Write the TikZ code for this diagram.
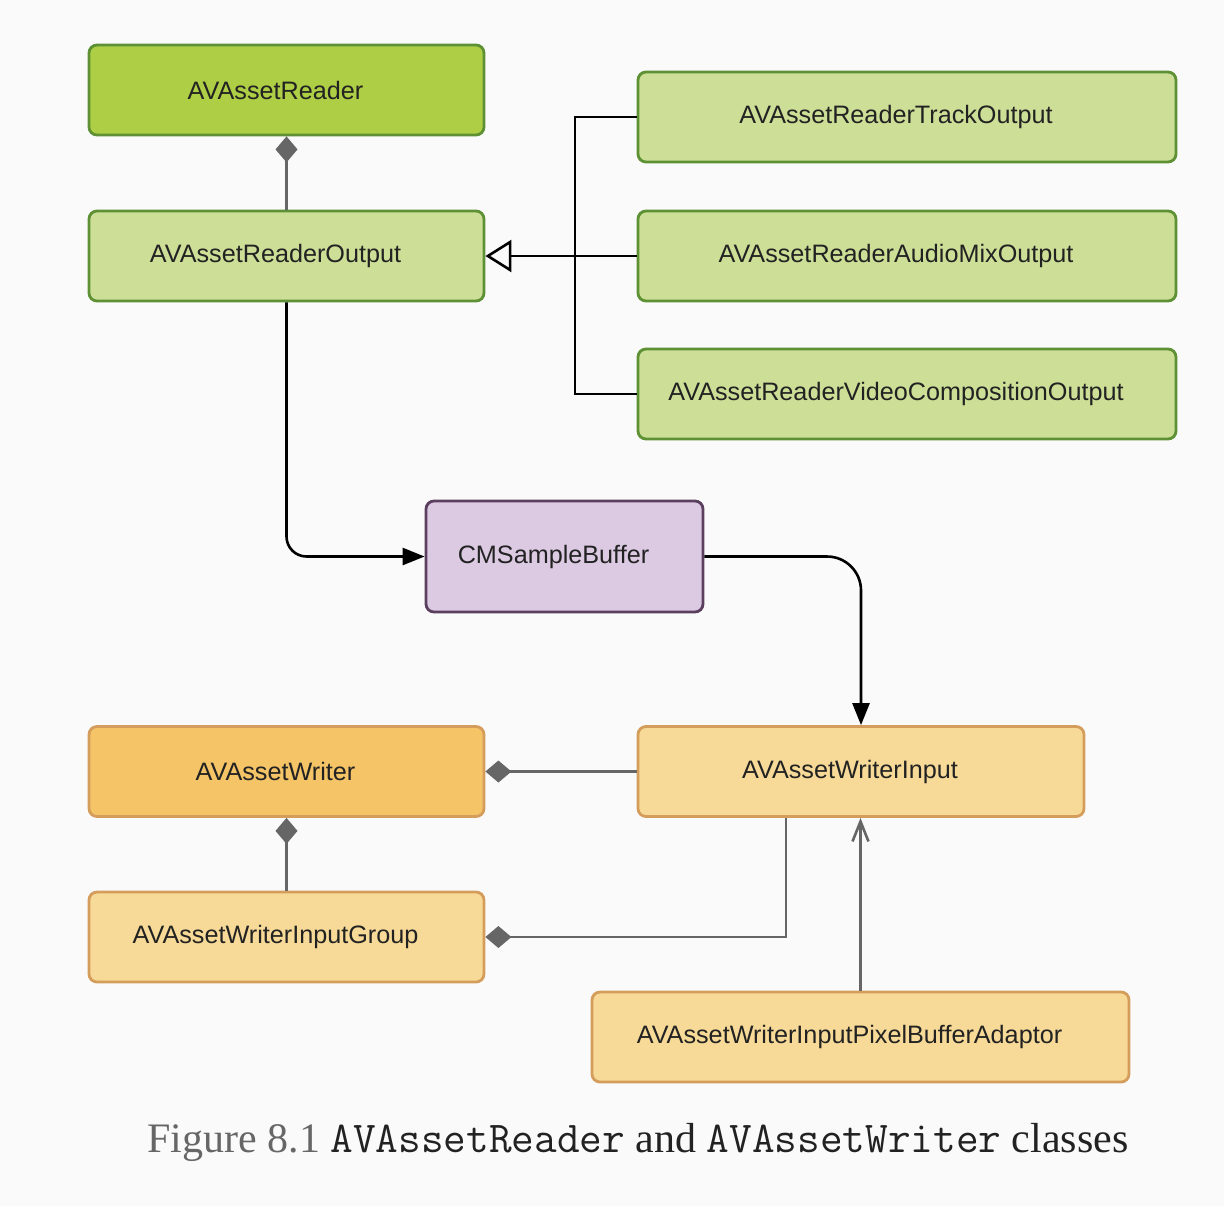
\documentclass[tikz,border=0pt]{standalone}
\usepackage{fontspec}
\setmainfont{Liberation Serif}
\setsansfont{Liberation Sans}
\usetikzlibrary{arrows.meta}
\definecolor{bg}{HTML}{FAFAFA}
\definecolor{greendark}{HTML}{AECE45}
\definecolor{greenlight}{HTML}{CDDF97}
\definecolor{greenline}{HTML}{5E9034}
\definecolor{purplefill}{HTML}{DCCAE2}
\definecolor{purpleline}{HTML}{5A3F5E}
\definecolor{orangedark}{HTML}{F4C467}
\definecolor{orangelight}{HTML}{F7DA97}
\definecolor{orangeline}{HTML}{D59D5C}
\definecolor{linegray}{HTML}{666666}
\definecolor{txt}{HTML}{222222}
\begin{document}
\begin{tikzpicture}[x=0.5pt, y=-0.5pt,
        box/.style={rectangle, rounded corners=4pt, line width=1.4pt,
            minimum height=45pt, text=txt,
            font=\sffamily\fontsize{12.6}{15}\selectfont,
            execute at end node={\hspace*{11pt}}},
        greenbox/.style={box, draw=greenline, fill=greenlight},
        purplebox/.style={box, draw=purpleline, fill=purplefill},
        orangebox/.style={box, draw=orangeline, fill=orangelight},
        compose/.style={draw=linegray, line width=1.3pt,
            -{Diamond[length=13pt, width=11pt, fill=linegray]}},
        inherit/.style={draw=black, line width=1.3pt,
            -{Triangle[open, length=13pt, width=16pt, fill=bg]}},
        flow/.style={draw=black, line width=1.3pt,
            -{Triangle[length=11pt, width=8.5pt]}},
        realize/.style={draw=linegray, line width=1.3pt,
            -{Straight Barb[length=10pt, width=8pt]}}
    ]
    \fill[bg] (0,0) rectangle (1224,1206);
    \useasboundingbox (0,0) rectangle (1224,1206);

    \node[greenbox, fill=greendark, minimum width=197.5pt] (reader) at (286.5,90) {AVAssetReader};
    \node[greenbox, minimum width=197.5pt] (output) at (286.5,256) {AVAssetReaderOutput};
    \node[greenbox, minimum width=269pt] (track) at (907,117) {AVAssetReaderTrackOutput};
    \node[greenbox, minimum width=269pt] (audio) at (907,256) {AVAssetReaderAudioMixOutput};
    \node[greenbox, minimum width=269pt] (video) at (907,394) {AVAssetReaderVideoCompositionOutput};

    \node[purplebox, minimum width=138.5pt, minimum height=55.5pt] (buffer) at (564.5,556.5) {CMSampleBuffer};

    \node[orangebox, fill=orangedark, minimum width=197.5pt] (writer) at (286.5,771.5) {AVAssetWriter};
    \node[orangebox, minimum width=223pt] (input) at (861,771.5) {AVAssetWriterInput};
    \node[orangebox, minimum width=197.5pt] (group) at (286.5,937) {AVAssetWriterInputGroup};
    \node[orangebox, minimum width=268.5pt] (adaptor) at (860.5,1037) {AVAssetWriterInputPixelBufferAdaptor};

    \coordinate (bus) at (575,256);

    \draw[compose] (output.north) -- (reader.south);
    \draw[inherit] (audio.west) -- (output.east);
    \draw[black, line width=1.3pt] (track.west) -| (bus) |- (video.west);

    \draw[flow, rounded corners=10pt] (output.south) |- (buffer.west);
    \draw[flow, rounded corners=17pt] (buffer.east) -| (input.north);

    \draw[compose] (input.west) -- (writer.east);
    \draw[compose] (group.north) -- (writer.south);
    \draw[compose] ([xshift=-37.5pt]input.south) |- (group.east);
    \draw[realize] (adaptor.north) -- (adaptor.north |- input.south);

    \node[anchor=base west, inner sep=0pt, text=txt, font=\fontsize{21}{24}\selectfont] (caption) at (147,1152)
        {\textcolor{linegray}{Figure 8.1} {\fontsize{22}{24}\selectfont\ttfamily AVAssetReader} and {\fontsize{22}{24}\selectfont\ttfamily AVAssetWriter} classes};
\end{tikzpicture}
\end{document}
